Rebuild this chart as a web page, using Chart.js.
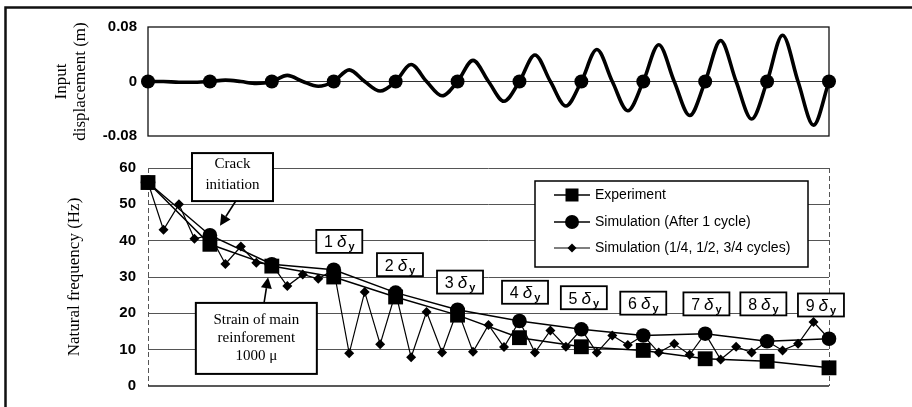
<!DOCTYPE html>
<html>
<head>
<meta charset="utf-8">
<script src="https://cdn.jsdelivr.net/npm/chart.js@4/dist/chart.umd.min.js"></script>
<style>
  html,body{margin:0;padding:0;background:#fff;}
  #wrap{position:relative;width:912px;height:407px;overflow:hidden;}
  canvas{position:absolute;left:0;top:0;}
</style>
</head>
<body>
<div id="wrap">
  <canvas id="bottom" width="912" height="407"></canvas>
  <canvas id="top" width="912" height="407"></canvas>
</div>
<script>
// ---------- data ----------
const cycleQuarters = [0,0.25,0.5,0.75,1,1.25,1.5,1.75,2,2.25,2.5,2.75,3,3.25,3.5,3.75,4,4.25,4.5,4.75,5,5.25,5.5,5.75,6,6.25,6.5,6.75,7,7.25,7.5,7.75,8,8.25,8.5,8.75,9,9.25,9.5,9.75,10,10.25,10.5,10.75,11];
const inputDisplacement = [0,0,-0.001,-0.001, 0,0.002,0,-0.003, 0,0.009,0,-0.007, 0,0.017,0,-0.014, 0,0.025,0,-0.021, 0,0.031,0,-0.029, 0,0.039,0,-0.036, 0,0.047,0,-0.043, 0,0.054,0,-0.050, 0,0.060,0,-0.055, 0,0.068,0,-0.064, 0];
const cycleMarks = [0,1,2,3,4,5,6,7,8,9,10,11];
const markDisplacement = [0,0,0,0,0,0,0,0,0,0,0,0];
const experimentHz = [56,39,33,30,24.5,19.5,13.3,10.8,9.8,7.5,6.8,5.0];
const simAfterCycleHz = [56,41.5,33.5,32,25.7,21.0,17.9,15.6,13.9,14.4,12.3,13.0];
const simQuarterHz = [56,43.0,50.0,40.5, 41.5,33.6,38.4,33.9, 33.5,27.5,30.7,29.5, 32,9.0,25.9,11.5, 25.7,7.9,20.4,9.2, 21.0,9.4,16.8,10.7, 17.9,9.2,15.3,10.8, 15.6,9.2,13.9,11.3, 13.9,9.2,11.6,8.6, 14.4,7.3,10.8,9.2, 12.3,9.8,11.6,17.6, 13.0];
const dispTicks = [-0.08,0,0.08];
const freqTicks = [0,10,20,30,40,50,60];
const seriesLabels = ['Experiment','Simulation (After 1 cycle)','Simulation (1/4, 1/2, 3/4 cycles)'];
const yieldLevels = ['1','2','3','4','5','6','7','8','9'];

// ---------- annotation layout (data-space anchors) ----------
const yieldBoxes = [[3.09,39.8],[4.07,33.4],[5.04,28.6],[6.09,25.8],[7.04,24.3],[8.0,22.8],[9.02,22.6],[9.94,22.6],[10.87,22.3]];
const notes = [
  {lines:['Crack','initiation'], at:[1.365,57.5], w:81, h:48, gap:21, shift:-3, from:[1.42,51.0], to:[1.163,44.1]},
  {lines:['Strain of main','reinforement','1000 \u03bc'], at:[1.75,13.1], w:121, h:71, gap:18, shift:0, from:[1.874,22.8], to:[1.94,29.9]}
];

const SANS = '"Liberation Sans", Arial, sans-serif';
const SERIF = '"Liberation Serif", "Times New Roman", serif';
const PLOT_LEFT = 148, PLOT_RIGHT = 829;

function pts(xs, ys){ return xs.map((x,i)=>({x:x, y:ys[i]})); }

function drawMarker(ctx, style, x, y, r){
  ctx.beginPath();
  if(style==='rect'){ ctx.rect(x-r, y-r, 2*r, 2*r); }
  else if(style==='circle'){ ctx.arc(x,y,r,0,Math.PI*2); }
  else { ctx.moveTo(x,y-r); ctx.lineTo(x+r,y); ctx.lineTo(x,y+r); ctx.lineTo(x-r,y); ctx.closePath(); }
  ctx.fill();
}

function arrow(ctx, x1,y1,x2,y2){
  const ang = Math.atan2(y2-y1,x2-x1), L=11, W=5.5;
  const bx = x2 - L*Math.cos(ang), by = y2 - L*Math.sin(ang);
  ctx.beginPath(); ctx.moveTo(x1,y1); ctx.lineTo(bx,by); ctx.lineWidth=1.6; ctx.stroke();
  ctx.beginPath(); ctx.moveTo(x2,y2);
  ctx.lineTo(bx + W*Math.sin(ang), by - W*Math.cos(ang));
  ctx.lineTo(bx - W*Math.sin(ang), by + W*Math.cos(ang));
  ctx.closePath(); ctx.fill();
}

// ---------- top chart ----------
const topFrame = {
  id:'topFrame',
  beforeDatasetsDraw(chart){
    const {ctx, chartArea:a} = chart;
    ctx.save(); ctx.strokeStyle='#111'; ctx.lineWidth=1.3;
    ctx.strokeRect(a.left, a.top, a.right-a.left, a.bottom-a.top);
    ctx.restore();
  }
};

new Chart(document.getElementById('top'), {
  type:'line',
  data:{datasets:[
    {label:'marks', data:pts(cycleMarks, markDisplacement), showLine:false, pointRadius:7, pointBackgroundColor:'#000', pointBorderWidth:0, order:0, clip:false},
    {label:'input', data:pts(cycleQuarters, inputDisplacement), borderColor:'#000', borderWidth:3.6, pointRadius:0, cubicInterpolationMode:'monotone', fill:false, order:1, clip:false}
  ]},
  options:{
    responsive:false, animation:false, devicePixelRatio:1,
    layout:{padding:{left:0, right:912-PLOT_RIGHT, top:27, bottom:407-136}},
    plugins:{legend:{display:false}, tooltip:{enabled:false}},
    scales:{
      x:{type:'linear', min:0, max:11, display:false},
      y:{min:-0.08, max:0.08,
         afterFit(s){ s.width = PLOT_LEFT; },
         afterBuildTicks(s){ s.ticks = dispTicks.map(v=>({value:v})); },
         ticks:{color:'#000', padding:11, font:{family:SANS, size:15, weight:'bold'},
                callback:(v)=> v===0 ? '0' : (v<0?'-':'') + Math.abs(v).toFixed(2)},
         grid:{drawTicks:false, color:(c)=> c.tick && c.tick.value===0 ? '#333' : 'rgba(0,0,0,0)', lineWidth:1},
         border:{display:false},
         title:{display:true, text:['Input','displacement (m)'], color:'#000', padding:{top:52,bottom:0},
                font:{family:SERIF, size:17, lineHeight:1.1}}
      }
    }
  },
  plugins:[topFrame]
});

// ---------- bottom chart ----------
const decor = {
  id:'decor',
  beforeDraw(chart){
    const ctx = chart.ctx;
    ctx.save(); ctx.strokeStyle='#111'; ctx.lineWidth=2.5;
    ctx.beginPath(); ctx.moveTo(5.5,407); ctx.lineTo(5.5,7.5); ctx.lineTo(912,7.5); ctx.stroke();
    ctx.restore();
  },
  beforeDatasetsDraw(chart){
    const {ctx, chartArea:a} = chart;
    ctx.save();
    ctx.strokeStyle='#555'; ctx.lineWidth=1; ctx.setLineDash([5,3]);
    ctx.beginPath(); ctx.moveTo(a.right+0.5,a.top); ctx.lineTo(a.right+0.5,a.bottom); ctx.stroke();
    ctx.beginPath(); ctx.moveTo(a.left+0.5,a.top); ctx.lineTo(a.left+0.5,a.bottom); ctx.stroke();
    ctx.setLineDash([]);
    ctx.strokeStyle='#222'; ctx.lineWidth=1.3;
    ctx.beginPath(); ctx.moveTo(a.left,a.bottom); ctx.lineTo(a.right,a.bottom); ctx.stroke();
    ctx.restore();
  },
  afterDraw(chart){
    const {ctx, scales:{x,y}} = chart;
    ctx.save();
    ctx.fillStyle='#000'; ctx.strokeStyle='#000';
    // notes with arrows
    notes.forEach(n=>{
      const cx = x.getPixelForValue(n.at[0]), cy = y.getPixelForValue(n.at[1]);
      ctx.fillStyle='#fff'; ctx.fillRect(cx-n.w/2, cy-n.h/2, n.w, n.h);
      ctx.lineWidth=2; ctx.strokeStyle='#000'; ctx.strokeRect(cx-n.w/2, cy-n.h/2, n.w, n.h);
      ctx.fillStyle='#000'; ctx.font='15px '+SERIF; ctx.textAlign='center'; ctx.textBaseline='middle';
      const k = n.lines.length;
      n.lines.forEach((t,i)=> ctx.fillText(t, cx, cy + n.shift + (i-(k-1)/2)*n.gap));
      arrow(ctx, x.getPixelForValue(n.from[0]), y.getPixelForValue(n.from[1]), x.getPixelForValue(n.to[0]), y.getPixelForValue(n.to[1]));
    });
    // yield labels
    yieldLevels.forEach((lv,i)=>{
      const cx = x.getPixelForValue(yieldBoxes[i][0]), cy = y.getPixelForValue(yieldBoxes[i][1]);
      const w=46, h=23;
      ctx.fillStyle='#fff'; ctx.fillRect(cx-w/2, cy-h/2, w, h);
      ctx.lineWidth=1.8; ctx.strokeStyle='#000'; ctx.strokeRect(cx-w/2, cy-h/2, w, h);
      ctx.fillStyle='#000'; ctx.textBaseline='alphabetic'; ctx.textAlign='left';
      ctx.font='16px '+SANS; const w1 = ctx.measureText(lv).width;
      ctx.font='italic 17px '+SANS; const w2 = ctx.measureText('\u03b4').width;
      ctx.font='bold 11px '+SANS; const w3 = ctx.measureText('y').width;
      const gap1=4, gap2=2;
      let sx = cx - (w1+gap1+w2+gap2+w3)/2; const base = cy+6;
      ctx.font='16px '+SANS; ctx.fillText(lv, sx, base); sx += w1+gap1;
      ctx.font='italic 17px '+SANS; ctx.fillText('\u03b4', sx, base); sx += w2+gap2;
      ctx.font='bold 11px '+SANS; ctx.fillText('y', sx, base+3);
    });
    // legend
    const L = {x0:535, y0:181, x1:808, y1:267};
    ctx.fillStyle='#fff'; ctx.fillRect(L.x0, L.y0, L.x1-L.x0, L.y1-L.y0);
    ctx.lineWidth=1.5; ctx.strokeStyle='#000'; ctx.strokeRect(L.x0, L.y0, L.x1-L.x0, L.y1-L.y0);
    const styles = [['rect',6.5,1.5],['circle',7,1.5],['diamond',4.5,1.2]];
    const rows = [195,222,248];
    ctx.font='14px '+SANS; ctx.textBaseline='middle'; ctx.textAlign='left';
    seriesLabels.forEach((lab,i)=>{
      const yy = rows[i];
      ctx.strokeStyle='#000'; ctx.lineWidth=styles[i][2];
      ctx.beginPath(); ctx.moveTo(554,yy); ctx.lineTo(590,yy); ctx.stroke();
      ctx.fillStyle='#000'; drawMarker(ctx, styles[i][0], 572, yy, styles[i][1]);
      ctx.fillText(lab, 595, yy+0.5);
    });
    ctx.restore();
  }
};

new Chart(document.getElementById('bottom'), {
  type:'line',
  data:{datasets:[
    {label:seriesLabels[0], data:pts(cycleMarks, experimentHz), borderColor:'#000', borderWidth:1.5,
     pointStyle:'rect', pointRadius:10.5, pointBackgroundColor:'#000', pointBorderWidth:0, order:0, clip:false},
    {label:seriesLabels[1], data:pts(cycleMarks, simAfterCycleHz), borderColor:'#000', borderWidth:1.5,
     pointStyle:'circle', pointRadius:7.3, pointBackgroundColor:'#000', pointBorderWidth:0, order:1, clip:false},
    {label:seriesLabels[2], data:pts(cycleQuarters, simQuarterHz), borderColor:'#000', borderWidth:1.2,
     pointStyle:'rectRot', pointRadius:5, pointBackgroundColor:'#000', pointBorderWidth:0, order:2, clip:false}
  ]},
  options:{
    responsive:false, animation:false, devicePixelRatio:1,
    layout:{padding:{left:0, right:912-PLOT_RIGHT, top:168, bottom:407-388}},
    plugins:{legend:{display:false}, tooltip:{enabled:false}},
    scales:{
      x:{type:'linear', min:0, max:11, display:false},
      y:{min:0, max:60,
         afterFit(s){ s.width = PLOT_LEFT; },
         afterBuildTicks(s){ s.ticks = freqTicks.map(v=>({value:v})); },
         ticks:{color:'#000', padding:12, font:{family:SANS, size:15, weight:'bold'}},
         grid:{drawTicks:false, color:(c)=> c.tick && c.tick.value===0 ? 'rgba(0,0,0,0)' : '#555', lineWidth:1},
         border:{display:false},
         title:{display:true, text:'Natural frequency (Hz)', color:'#000', padding:{top:65,bottom:0},
                font:{family:SERIF, size:17, lineHeight:1.1}}
      }
    }
  },
  plugins:[decor]
});
</script>
</body>
</html>
